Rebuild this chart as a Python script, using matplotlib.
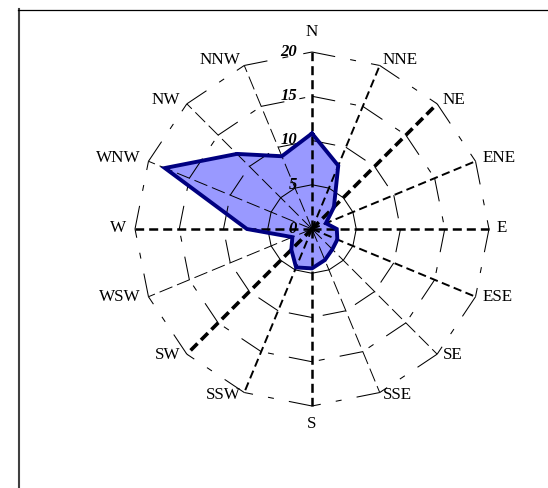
import numpy as np
import matplotlib
matplotlib.use('Agg')
import matplotlib.pyplot as plt
from matplotlib.lines import Line2D

plt.rcParams['lines.scale_dashes'] = False

directions = ['N', 'NNE', 'NE', 'ENE', 'E', 'ESE', 'SE', 'SSE',
              'S', 'SSW', 'SW', 'WSW', 'W', 'WNW', 'NW', 'NNW']
frequency = [10.8, 7.75, 3.5, 1.7, 2.8, 3.1, 3.25, 3.8,
             4.45, 4.7, 3.3, 2.4, 7.35, 18.0, 12.0, 8.9]
ring_values = [0, 5, 10, 15, 20]
ring_labels = ['0', '5', '10', '15', '20']

W, H, DPI = 548, 488, 100
fig = plt.figure(figsize=(W / DPI, H / DPI), dpi=DPI)
cx, cy, R = 312, 229, 177
ax = fig.add_axes([(cx - R) / W, (H - cy - R) / H, 2 * R / W, 2 * R / H],
                  projection='polar')
ax.set_theta_zero_location('N')
ax.set_theta_direction(-1)
ax.set_ylim(0, 20)
ax.axis('off')

n = len(directions)
theta = np.deg2rad(np.arange(n) * 360.0 / n)
step = 2 * np.pi / n

# data polygon fill
th_c = np.append(theta, theta[0])
fr_c = np.append(frequency, frequency[0])
ax.fill(th_c, fr_c, facecolor='#9999FF', edgecolor='none', zorder=1, clip_on=False)

# rings (16-gon, dashed, pattern restarting at each vertex)
for r in ring_values[1:]:
    for i in range(n):
        ax.plot([theta[i], theta[i] + step], [r, r], color='black', lw=0.75,
                dashes=(17, 11, 4.3, 11), zorder=2, clip_on=False,
                dash_capstyle='butt')

# spokes
axis_style = {
    'major': dict(lw=1.8, dashes=(6.5, 3.6)),
    'bold': dict(lw=2.6, dashes=(7, 3.6)),
    'mid': dict(lw=1.4, dashes=(6, 3.2)),
    'thin': dict(lw=0.7, dashes=(10, 3.6)),
}
spoke_kind = {'N': 'major', 'E': 'major', 'S': 'major', 'W': 'major',
              'NE': 'bold', 'SW': 'bold',
              'NNE': 'mid', 'ENE': 'mid', 'ESE': 'mid', 'SSW': 'mid'}
for i, d in enumerate(directions):
    st = axis_style[spoke_kind.get(d, 'thin')]
    ax.plot([theta[i], theta[i]], [0, ring_values[-1]], color='black',
            lw=st['lw'], dashes=st['dashes'], zorder=2, clip_on=False,
            dash_capstyle='butt')

# data polygon edge
ax.plot(th_c, fr_c, color='#000080', lw=2.8, zorder=3, clip_on=False,
        solid_joinstyle='miter')

# ring labels
for v, lab in zip(ring_values, ring_labels):
    ax.annotate(lab, xy=(0, v), xytext=(-15, 0), textcoords='offset pixels',
                ha='right', va='center', fontsize=12, fontweight='bold',
                fontstyle='italic', family='Liberation Serif', zorder=4,
                annotation_clip=False)

# direction labels
for i, d in enumerate(directions):
    s, c = np.sin(theta[i]), np.cos(theta[i])
    if d == 'N':
        off, ha = (0, 20), 'center'
    elif d == 'S':
        off, ha = (0, -18), 'center'
    elif s > 0:
        off, ha = (8 * s, 4 * c + 1.5), 'left'
    else:
        off, ha = (9 * s, 4 * c + 1.5), 'right'
    ax.annotate(d, xy=(theta[i], ring_values[-1]), xytext=off,
                textcoords='offset pixels', ha=ha, va='center',
                fontsize=12.3, family='Liberation Serif', zorder=4,
                annotation_clip=False)

# outer frame (left and top edges)
fig.add_artist(Line2D([18.5 / W, 18.5 / W], [0, 1 - 9 / H],
                      transform=fig.transFigure, color='#404040', lw=1.5))
fig.add_artist(Line2D([18 / W, 1], [1 - 9.5 / H, 1 - 9.5 / H],
                      transform=fig.transFigure, color='black', lw=0.9))

fig.savefig('out.png', dpi=DPI)
